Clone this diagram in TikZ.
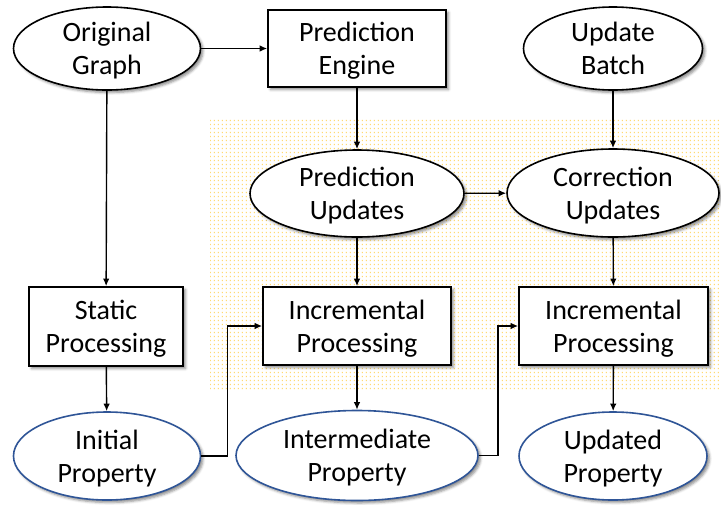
\documentclass[tikz,border=0pt]{standalone}
\usepackage{fontspec}
\setmainfont{Carlito}
\usetikzlibrary{shapes.geometric,arrows.meta,shadows.blur,patterns}

\definecolor{dotc}{RGB}{255,198,40}
\definecolor{propblue}{RGB}{47,85,151}

% sparse grid of small yellow dots for the highlighted area
\pgfdeclarepatternformonly{yeldots}{\pgfpointorigin}{\pgfqpoint{4.1pt}{4.1pt}}{\pgfqpoint{4.1pt}{4.1pt}}{%
  \pgfpathrectangle{\pgfqpoint{1pt}{1pt}}{\pgfqpoint{1.1pt}{1.6pt}}%
  \pgfusepath{fill}}

\tikzset{
  base/.style={fill=white, line width=1.6pt, align=center, inner sep=0pt,
    font=\fontsize{28}{33}\selectfont, text depth=0pt,
    blur shadow={shadow xshift=2.5pt, shadow yshift=-2.5pt, shadow blur radius=2.5pt, shadow opacity=45}},
  procbox/.style={base, draw=black, rectangle},
  dataell/.style={base, draw=black, ellipse},
  propell/.style={base, draw=propblue, ellipse},
  arr/.style={line width=1.4pt, -{Latex[length=7.5pt,width=6.5pt]}},
}

\begin{document}
\begin{tikzpicture}[x=1pt, y=-1pt]
\useasboundingbox (0,0) rectangle (721,504);

% highlighted incremental area
\fill[pattern=yeldots, pattern color=dotc] (210,118) rectangle (721,390);

% top row
\node[dataell, minimum width=187pt, minimum height=83pt] (og) at (107,48.5) {Original\\Graph};
\node[procbox, minimum width=178pt, minimum height=77pt] (pe) at (357,48.5) {Prediction\\Engine};
\node[dataell, minimum width=179pt, minimum height=83pt] (ub) at (613,48.5) {Update\\Batch};

% second row
\node[dataell, minimum width=214pt, minimum height=87pt] (pu) at (357,193.5) {Prediction\\Updates};
\node[dataell, minimum width=212pt, minimum height=88pt] (cu) at (613,193) {Correction\\Updates};

% processing row
\node[procbox, minimum width=154pt, minimum height=79pt] (sp) at (106,326.5) {Static\\Processing};
\node[procbox, minimum width=188pt, minimum height=78pt] (ip1) at (357,326) {Incremental\\Processing};
\node[procbox, minimum width=189pt, minimum height=78pt] (ip2) at (613.5,326) {Incremental\\Processing};

% property row
\node[propell, minimum width=187pt, minimum height=88pt] (inp) at (107,456) {Initial\\Property};
\node[propell, minimum width=242pt, minimum height=90pt] (mid) at (357,455.5) {Intermediate\\Property};
\node[propell, minimum width=188pt, minimum height=88pt] (upd) at (613,456) {Updated\\Property};

% connectors
\draw[arr] (og) -- (pe);
\draw[arr] (og) -- (sp);
\draw[arr] (pe) -- (pu);
\draw[arr] (ub) -- (cu);
\draw[arr] (pu) -- (cu);
\draw[arr] (pu) -- (ip1);
\draw[arr] (cu) -- (ip2);
\draw[arr] (sp) -- (inp);
\draw[arr] (ip1) -- (mid);
\draw[arr] (ip2) -- (upd);
\draw[arr] (inp.east) -- ++(26,0) |- (ip1.west);
\draw[arr] (mid.east) -- ++(19,0) |- (ip2.west);
\end{tikzpicture}
\end{document}
